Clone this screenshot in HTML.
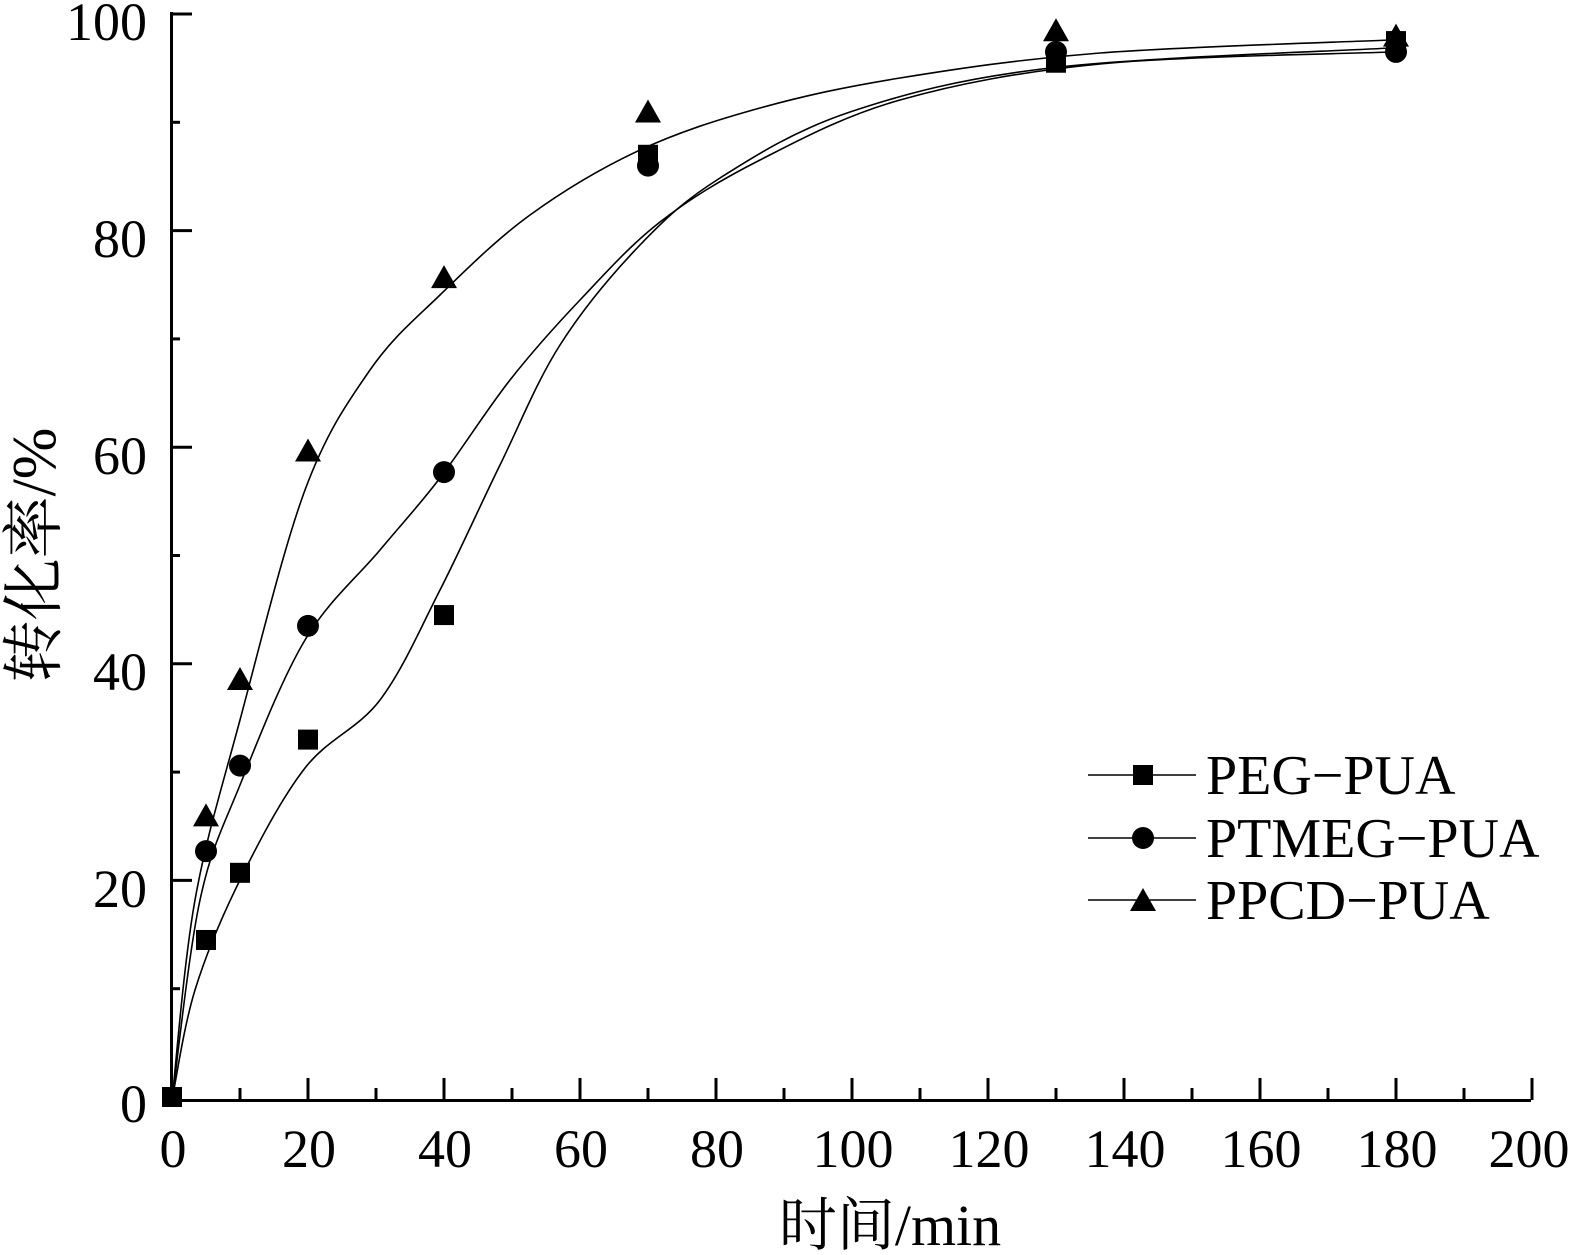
<!DOCTYPE html>
<html><head><meta charset="utf-8"><style>
html,body{margin:0;padding:0;background:#fff;}
svg{display:block;}
text{font-family:"Liberation Serif","Noto Serif CJK SC",serif;fill:#000;}
</style></head><body>
<svg id="s" width="1571" height="1255" viewBox="0 0 1571 1255" xmlns="http://www.w3.org/2000/svg">
<g stroke="#000" stroke-width="3" fill="none">
<line x1="171.5" y1="12" x2="171.5" y2="1101.5"/>
<line x1="170" y1="1100.5" x2="1531" y2="1100.5"/>
</g>
<g id="ticks" stroke="#000" stroke-width="3"></g>
<g font-size="54" text-anchor="end">
<text x="147" y="40">100</text>
<text x="147" y="257">80</text>
<text x="147" y="474">60</text>
<text x="147" y="690">40</text>
<text x="147" y="907">20</text>
<text x="147" y="1122">0</text>
</g>
<g font-size="54" text-anchor="middle">
<text x="173" y="1167">0</text>
<text x="309" y="1167">20</text>
<text x="445" y="1167">40</text>
<text x="581" y="1167">60</text>
<text x="717" y="1167">80</text>
<text x="853" y="1167">100</text>
<text x="989" y="1167">120</text>
<text x="1125" y="1167">140</text>
<text x="1261" y="1167">160</text>
<text x="1397" y="1167">180</text>
<text x="1529" y="1167">200</text>
</g>
<text x="890" y="1245" font-size="58" text-anchor="middle">时间/min</text>
<text transform="translate(55,555) rotate(-90)" font-size="62" text-anchor="middle">转化率/%</text>
<g id="curves" stroke="#000" stroke-width="1.6" fill="none"></g>
<g id="marks" fill="#000"></g>
<g stroke="#000" stroke-width="1.6">
<line x1="1088" y1="775" x2="1196" y2="775"/>
<line x1="1088" y1="838" x2="1196" y2="838"/>
<line x1="1088" y1="900" x2="1196" y2="900"/>
</g>
<rect x="1133" y="765" width="20" height="20" fill="#000"/>
<circle cx="1143" cy="838" r="11" fill="#000"/>
<polygon points="1143,888 1156,911 1130,911" fill="#000"/>
<g font-size="56">
<text x="1206" y="794">PEG−PUA</text>
<text x="1206" y="857">PTMEG−PUA</text>
<text x="1206" y="919">PPCD−PUA</text>
</g>
</svg>
<script>
var NS="http://www.w3.org/2000/svg";
function el(t,a,p){var e=document.createElementNS(NS,t);for(var k in a)e.setAttribute(k,a[k]);document.getElementById(p).appendChild(e);return e;}
function X(t){return 172+6.8*t;}function Y(v){return 1097-10.83*v;}
for(var i=0;i<=20;i++){var x=X(i*10),L=i%2?12:22;if(i>0)el("line",{x1:x,y1:1100,x2:x,y2:1100-L},"ticks");}
for(var i=1;i<=10;i++){var y=Y(i*10),L=i%2?9:21;el("line",{x1:171,y1:y,x2:171+L,y2:y},"ticks");}
function cr(p){var d="M"+p[0][0]+","+p[0][1];for(var i=0;i<p.length-1;i++){var p0=p[i-1]||p[i],p1=p[i],p2=p[i+1],p3=p[i+2]||p2;
d+=" C"+(p1[0]+(p2[0]-p0[0])/6)+","+(p1[1]+(p2[1]-p0[1])/6)+" "+(p2[0]-(p3[0]-p1[0])/6)+","+(p2[1]-(p3[1]-p1[1])/6)+" "+p2[0]+","+p2[1];}return d;}
var c=[
[[172,1100],[195,990],[240,880],[305,768],[380,700],[440,590],[500,465],[560,345],[640,245],[720,178],[850,112],[1050,68],[1390,48]],
[[172,1100],[200,900],[240,785],[305,640],[380,550],[440,478],[510,380],[580,300],[660,222],[760,160],[900,100],[1100,64],[1390,52]],
[[172,1100],[195,900],[240,720],[305,490],[370,370],[440,295],[530,215],[640,150],[760,108],[900,78],[1100,53],[1390,40]]];
c.forEach(function(p){el("path",{d:cr(p)},"curves");});
var peg=[[0,0],[5,14.5],[10,20.7],[20,33],[40,44.5],[70,87],[130,95.5],[180,97.5]];
var pt=[[5,22.7],[10,30.6],[20,43.5],[40,57.7],[70,86],[130,96.5],[180,96.5]];
var pp=[[5,26],[10,38.6],[20,59.7],[40,75.7],[70,91],[130,98.5],[180,98]];
peg.forEach(function(d){el("rect",{x:X(d[0])-10,y:Y(d[1])-10,width:20,height:20},"marks");});
pt.forEach(function(d){el("circle",{cx:X(d[0]),cy:Y(d[1]),r:11},"marks");});
pp.forEach(function(d){var x=X(d[0]),y=Y(d[1]);el("polygon",{points:x+","+(y-12)+" "+(x+13)+","+(y+11)+" "+(x-13)+","+(y+11)},"marks");});
</script>
</body></html>
